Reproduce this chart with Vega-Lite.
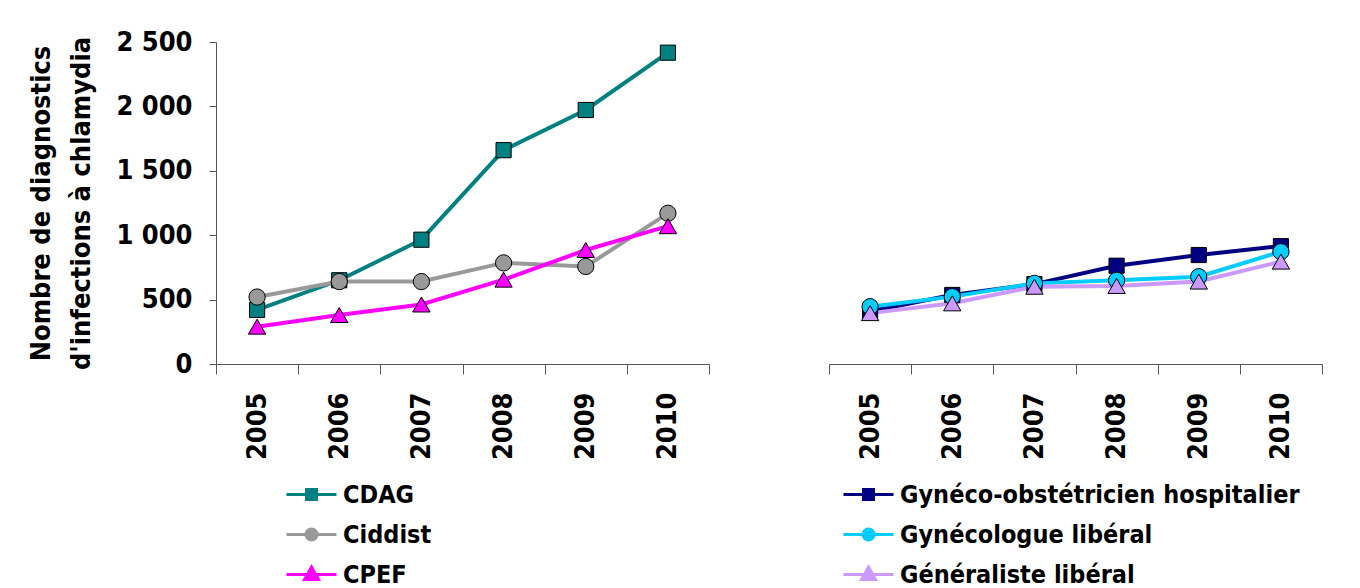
{
  "$schema": "https://vega.github.io/schema/vega-lite/v6.json",
  "padding": {"left": 27, "top": 28, "right": 0, "bottom": 0},
  "background": "white",
  "data": {"values": [
    {"panel": "A", "series": "CDAG", "year": "2005", "value": 420},
    {"panel": "A", "series": "CDAG", "year": "2006", "value": 650},
    {"panel": "A", "series": "CDAG", "year": "2007", "value": 965},
    {"panel": "A", "series": "CDAG", "year": "2008", "value": 1660},
    {"panel": "A", "series": "CDAG", "year": "2009", "value": 1972},
    {"panel": "A", "series": "CDAG", "year": "2010", "value": 2417},
    {"panel": "A", "series": "Ciddist", "year": "2005", "value": 520},
    {"panel": "A", "series": "Ciddist", "year": "2006", "value": 640},
    {"panel": "A", "series": "Ciddist", "year": "2007", "value": 640},
    {"panel": "A", "series": "Ciddist", "year": "2008", "value": 785},
    {"panel": "A", "series": "Ciddist", "year": "2009", "value": 757},
    {"panel": "A", "series": "Ciddist", "year": "2010", "value": 1170},
    {"panel": "A", "series": "CPEF", "year": "2005", "value": 290},
    {"panel": "A", "series": "CPEF", "year": "2006", "value": 380},
    {"panel": "A", "series": "CPEF", "year": "2007", "value": 462},
    {"panel": "A", "series": "CPEF", "year": "2008", "value": 655},
    {"panel": "A", "series": "CPEF", "year": "2009", "value": 885},
    {"panel": "A", "series": "CPEF", "year": "2010", "value": 1070},
    {"panel": "B", "series": "Gynéco-obstétricien hospitalier", "year": "2005", "value": 410},
    {"panel": "B", "series": "Gynéco-obstétricien hospitalier", "year": "2006", "value": 536},
    {"panel": "B", "series": "Gynéco-obstétricien hospitalier", "year": "2007", "value": 620},
    {"panel": "B", "series": "Gynéco-obstétricien hospitalier", "year": "2008", "value": 763},
    {"panel": "B", "series": "Gynéco-obstétricien hospitalier", "year": "2009", "value": 846},
    {"panel": "B", "series": "Gynéco-obstétricien hospitalier", "year": "2010", "value": 915},
    {"panel": "B", "series": "Gynécologue libéral", "year": "2005", "value": 445},
    {"panel": "B", "series": "Gynécologue libéral", "year": "2006", "value": 523},
    {"panel": "B", "series": "Gynécologue libéral", "year": "2007", "value": 626},
    {"panel": "B", "series": "Gynécologue libéral", "year": "2008", "value": 650},
    {"panel": "B", "series": "Gynécologue libéral", "year": "2009", "value": 678},
    {"panel": "B", "series": "Gynécologue libéral", "year": "2010", "value": 872},
    {"panel": "B", "series": "Généraliste libéral", "year": "2005", "value": 395},
    {"panel": "B", "series": "Généraliste libéral", "year": "2006", "value": 471},
    {"panel": "B", "series": "Généraliste libéral", "year": "2007", "value": 600},
    {"panel": "B", "series": "Généraliste libéral", "year": "2008", "value": 606},
    {"panel": "B", "series": "Généraliste libéral", "year": "2009", "value": 640},
    {"panel": "B", "series": "Généraliste libéral", "year": "2010", "value": 795}
  ]},
  "spacing": 105,
  "resolve": {
    "scale": {"color": "independent", "fill": "independent", "shape": "independent", "size": "independent", "x": "independent"},
    "legend": {"color": "independent"}
  },
  "hconcat": [
    {
      "width": 493,
      "height": 322,
      "transform": [{"filter": "datum.panel === 'A'"}],
      "encoding": {
        "x": {"field": "year", "type": "ordinal", "scale": {"paddingInner": 0, "paddingOuter": 0},
              "axis": {"title": null, "labelAngle": -90, "tickBand": "extent", "tickSize": 10, "labelPadding": 18}},
        "y": {"field": "value", "type": "quantitative", "scale": {"domain": [0, 2500], "nice": false},
              "axis": {"values": [0, 500, 1000, 1500, 2000, 2500],
                       "labelExpr": "replace(format(datum.value, ','), ',', ' ')",
                       "title": ["Nombre de diagnostics", "d'infections à chlamydia"],
                       "titleFontSize": 27, "titleLineHeight": 40, "titlePadding": 20,
                       "tickSize": 7, "labelPadding": 17}}
      },
      "layer": [
        {
          "mark": {"type": "line", "strokeWidth": 4},
          "encoding": {
            "color": {"field": "series", "type": "nominal",
                      "scale": {"domain": ["CDAG", "Ciddist", "CPEF"], "range": ["#008080", "#999999", "#FF00FF"]},
                      "legend": {
                        "orient": "none", "legendX": 69, "legendY": 426, "title": null, "direction": "vertical",
                        "symbolSize": 2500, "symbolStrokeWidth": 3, "labelOffset": 5, "rowPadding": -1, "padding": 0,
                        "encode": {"symbols": {"update": {
                          "shape": {"signal": "datum.value === 'CDAG' ? 'M-1,0H1M-0.2,-0.2H0.2V0.2H-0.2Z' : datum.value === 'Ciddist' ? 'M-1,0H1M-0.22,0A0.22,0.22 0 1,0 0.22,0A0.22,0.22 0 1,0 -0.22,0Z' : 'M-1,0H1M0,-0.3L0.28,0.2L-0.28,0.2Z'"},
                          "fill": {"signal": "datum.value === 'CDAG' ? '#008080' : datum.value === 'Ciddist' ? '#999999' : '#FF00FF'"},
                          "opacity": {"value": 1}, "fillOpacity": {"value": 1}
                        }}}
                      }}
          }
        },
        {
          "mark": {"type": "point", "filled": true, "stroke": "black", "strokeWidth": 1, "opacity": 1},
          "encoding": {
            "shape": {"field": "series", "type": "nominal",
                      "scale": {"domain": ["CPEF", "Ciddist", "CDAG"], "range": ["triangle-up", "circle", "square"]}, "legend": null},
            "fill": {"field": "series", "type": "nominal",
                     "scale": {"domain": ["CPEF", "Ciddist", "CDAG"], "range": ["#FF00FF", "#999999", "#008080"]}, "legend": null},
            "size": {"field": "series", "type": "nominal",
                     "scale": {"domain": ["CPEF", "Ciddist", "CDAG"], "range": [300, 230, 170]}, "legend": null}
          }
        }
      ]
    },
    {
      "width": 493,
      "height": 322,
      "transform": [{"filter": "datum.panel === 'B'"}],
      "encoding": {
        "x": {"field": "year", "type": "ordinal", "scale": {"paddingInner": 0, "paddingOuter": 0},
              "axis": {"title": null, "labelAngle": -90, "tickBand": "extent", "tickSize": 10, "labelPadding": 18}},
        "y": {"field": "value", "type": "quantitative", "scale": {"domain": [0, 2500], "nice": false}, "axis": null}
      },
      "layer": [
        {
          "mark": {"type": "line", "strokeWidth": 4},
          "encoding": {
            "color": {"field": "series", "type": "nominal",
                      "scale": {"domain": ["Gynéco-obstétricien hospitalier", "Gynécologue libéral", "Généraliste libéral"], "range": ["#000080", "#00CCFF", "#CC99FF"]},
                      "legend": {
                        "orient": "none", "legendX": 13, "legendY": 426, "title": null, "direction": "vertical",
                        "symbolSize": 2500, "symbolStrokeWidth": 3, "labelOffset": 5, "rowPadding": -1, "padding": 0, "labelLimit": 600,
                        "encode": {"symbols": {"update": {
                          "shape": {"signal": "datum.value === 'Gynéco-obstétricien hospitalier' ? 'M-1,0H1M-0.2,-0.2H0.2V0.2H-0.2Z' : datum.value === 'Gynécologue libéral' ? 'M-1,0H1M-0.22,0A0.22,0.22 0 1,0 0.22,0A0.22,0.22 0 1,0 -0.22,0Z' : 'M-1,0H1M0,-0.3L0.28,0.2L-0.28,0.2Z'"},
                          "fill": {"signal": "datum.value === 'Gynéco-obstétricien hospitalier' ? '#000080' : datum.value === 'Gynécologue libéral' ? '#00CCFF' : '#CC99FF'"},
                          "opacity": {"value": 1}, "fillOpacity": {"value": 1}
                        }}}
                      }}
          }
        },
        {
          "mark": {"type": "point", "filled": true, "stroke": "black", "strokeWidth": 1, "opacity": 1},
          "encoding": {
            "shape": {"field": "series", "type": "nominal",
                      "scale": {"domain": ["Généraliste libéral", "Gynécologue libéral", "Gynéco-obstétricien hospitalier"], "range": ["triangle-up", "circle", "square"]}, "legend": null},
            "fill": {"field": "series", "type": "nominal",
                     "scale": {"domain": ["Généraliste libéral", "Gynécologue libéral", "Gynéco-obstétricien hospitalier"], "range": ["#CC99FF", "#00CCFF", "#000080"]}, "legend": null},
            "size": {"field": "series", "type": "nominal",
                     "scale": {"domain": ["Généraliste libéral", "Gynécologue libéral", "Gynéco-obstétricien hospitalier"], "range": [300, 230, 170]}, "legend": null}
          }
        }
      ]
    }
  ],
  "config": {
    "font": "DejaVu Sans Condensed",
    "view": {"stroke": null},
    "axis": {
      "labelFont": "DejaVu Sans Condensed", "labelFontWeight": "bold", "labelFontSize": 27, "labelColor": "black",
      "titleFont": "DejaVu Sans Condensed", "titleFontWeight": "bold", "titleColor": "black",
      "domainColor": "#555555", "tickColor": "#555555", "domainWidth": 1, "tickWidth": 1, "grid": false
    },
    "legend": {
      "labelFont": "DejaVu Sans Condensed", "labelFontWeight": "bold", "labelFontSize": 25, "labelColor": "black", "labelLimit": 600
    }
  }
}
